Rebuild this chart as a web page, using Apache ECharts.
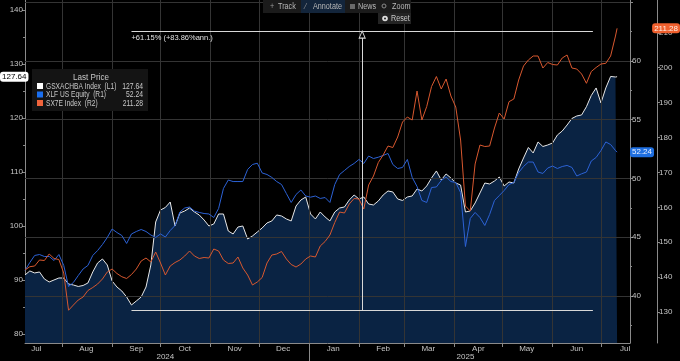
<!DOCTYPE html>
<html><head><meta charset="utf-8">
<script src="https://cdn.jsdelivr.net/npm/echarts@6/dist/echarts.min.js"></script>
<style>html,body{margin:0;padding:0;background:#000;}#c{width:680px;height:361px;}</style>
</head><body><div id="c"></div>
<script>
const dates = ['2024-07-09','2024-07-12','2024-07-15','2024-07-18','2024-07-21','2024-07-24','2024-07-27','2024-07-30','2024-08-02','2024-08-05',
'2024-08-08','2024-08-11','2024-08-14','2024-08-17','2024-08-20','2024-08-23','2024-08-26','2024-08-29','2024-09-01','2024-09-04',
'2024-09-07','2024-09-10','2024-09-13','2024-09-16','2024-09-19','2024-09-22','2024-09-25','2024-09-28','2024-10-01','2024-10-04',
'2024-10-07','2024-10-10','2024-10-13','2024-10-16','2024-10-19','2024-10-22','2024-10-25','2024-10-28','2024-10-31','2024-11-03',
'2024-11-06','2024-11-09','2024-11-12','2024-11-15','2024-11-18','2024-11-21','2024-11-24','2024-11-27','2024-11-30','2024-12-03',
'2024-12-06','2024-12-09','2024-12-12','2024-12-15','2024-12-18','2024-12-21','2024-12-24','2024-12-27','2024-12-30','2025-01-02',
'2025-01-05','2025-01-08','2025-01-11','2025-01-14','2025-01-17','2025-01-20','2025-01-23','2025-01-26','2025-01-29','2025-02-01',
'2025-02-04','2025-02-07','2025-02-10','2025-02-13','2025-02-16','2025-02-19','2025-02-22','2025-02-25','2025-02-28','2025-03-03',
'2025-03-06','2025-03-09','2025-03-12','2025-03-15','2025-03-18','2025-03-21','2025-03-24','2025-03-27','2025-03-30','2025-04-02',
'2025-04-05','2025-04-08','2025-04-11','2025-04-14','2025-04-17','2025-04-20','2025-04-23','2025-04-26','2025-04-29','2025-05-02',
'2025-05-05','2025-05-08','2025-05-11','2025-05-14','2025-05-17','2025-05-20','2025-05-23','2025-05-26','2025-05-29','2025-06-01',
'2025-06-04','2025-06-07','2025-06-10','2025-06-13','2025-06-16','2025-06-19','2025-06-22','2025-06-25','2025-06-28','2025-07-01',
'2025-07-04','2025-07-07','2025-07-10','2025-07-11'];

const gsxachba = [90.93,91.67,91.3,91.48,90.19,89.63,90.0,90.37,90.37,89.26,
89.07,88.8,88.98,89.44,91.48,93.15,93.89,92.78,89.81,88.7,
87.96,86.85,85.37,86.11,86.85,88.7,92.78,100.74,102.96,103.43,
104.44,100.0,102.4,102.78,103.33,102.6,102.04,101.11,100.0,100.37,
102.22,102.22,99.07,98.52,99.81,100.0,97.59,98.15,98.89,99.63,
100.56,100.93,102.04,101.85,101.3,100.93,103.7,104.81,105.37,102.22,
101.3,102.59,101.67,100.93,102.59,103.33,103.52,104.81,105.74,105.0,
105.37,104.07,103.89,104.63,105.74,106.48,106.3,105.0,104.72,105.37,
105.56,106.85,106.48,107.41,108.89,110.19,108.52,109.63,108.89,107.96,
107.59,102.59,102.78,104.26,106.11,107.96,107.78,108.33,109.07,107.41,
108.15,107.96,110.56,112.59,114.54,113.52,115.56,114.72,115.0,115.37,
116.85,117.59,118.7,119.91,120.37,120.56,122.09,124.17,125.56,122.78,
125.56,127.69,127.59,127.64];

const xlf = [42.17,42.85,43.45,43.53,43.36,43.36,43.02,43.53,42.6,40.81,
41.15,41.74,42.3,42.6,43.45,43.87,44.38,44.98,45.7,45.4,
45.15,44.47,45.28,45.49,45.66,45.49,45.19,44.98,45.28,45.02,
45.57,46.0,47.15,47.49,47.57,47.23,47.11,47.02,46.98,46.68,
47.45,49.15,49.87,49.74,49.74,49.74,50.77,51.19,51.3,50.47,
50.34,50.09,49.74,49.49,48.72,47.96,48.64,49.02,48.51,48.41,
48.51,48.3,48.38,47.96,49.49,50.34,50.68,51.02,51.28,51.62,
51.28,51.91,51.7,51.81,51.96,52.13,51.19,50.85,50.94,51.62,
50.09,49.32,48.13,47.96,49.23,49.28,49.83,50.13,49.74,49.66,
48.81,44.21,46.6,47.11,46.68,46.0,46.94,48.13,48.55,48.98,
49.49,49.66,50.51,51.02,51.4,51.4,50.55,50.43,50.89,51.06,
50.85,51.02,51.11,50.94,50.21,50.4,50.55,51.49,51.79,52.38,
53.11,52.89,52.38,52.24];

const sx7e = [142.03,142.98,143.18,144.9,144.76,146.62,145.33,145.04,141.17,130.5,
132.0,133.44,134.3,136.16,137.02,138.02,139.46,141.46,142.32,141.03,
140.11,139.6,140.74,142.32,144.61,145.47,144.33,147.19,144.04,140.6,
143.18,144.18,144.9,146.05,147.48,146.05,145.33,145.62,145.47,148.05,
147.48,144.9,143.9,144.04,145.76,142.61,140.6,137.74,138.6,139.89,
144.04,146.33,146.62,147.34,145.19,143.61,142.89,143.75,145.19,146.05,
145.76,148.91,150.2,152.06,155.64,158.65,158.37,160.95,162.52,162.38,
159.51,166.39,168.97,172.84,174.99,177.56,177.13,180.14,184.44,185.87,
185.01,193.32,185.01,188.88,194.61,197.48,193.9,196.76,191.89,188.74,
179.28,160.37,158.94,172.41,177.85,177.42,177.56,182.72,187.02,185.3,
190.26,191.03,196.48,200.49,202.21,203.35,203.35,199.91,201.49,200.92,
200.77,202.78,203.64,199.91,199.63,198.19,195.53,198.91,200.06,201.06,
201.26,203.35,209.08,211.28];

const seriesNames = ['GSXACHBA Index  (L1)', 'XLF US Equity  (R1)', 'SX7E Index  (R2)'];
const xRange = ['2024-07-09', '2025-07-19'];
const monthTicks = ['2024-08-01','2024-09-01','2024-10-01','2024-11-01','2024-12-01','2025-01-01','2025-02-01','2025-03-01','2025-04-01','2025-05-01','2025-06-01','2025-07-01'];
const monthLabelDates = ['2024-07-16','2024-08-16','2024-09-16','2024-10-16','2024-11-16','2024-12-16','2025-01-16','2025-02-16','2025-03-16','2025-04-16','2025-05-16','2025-06-16','2025-07-16'];
const monthNames = ['Jan','Feb','Mar','Apr','May','Jun','Jul','Aug','Sep','Oct','Nov','Dec'];
const yearLabelDates = ['2024-10-04','2025-04-08'];
const yearBreak = ['2025-01-01'];
const l1Ticks = [80,90,100,110,120,130,140];
const r1Ticks = [40,45,50,55,60];
const r1Grid = [40,45,50,55,60,65];
const r2Ticks = [130,140,150,160,170,180,190,200,210];
const annotText = '+61.15% (+83.86%ann.)';
const annotStart = '2024-09-13', annotEnd = '2025-06-26', annotMid = '2025-02-03';
const annotLow = 84.4, annotHigh = 136.0;
const toolbarItems = ['Track', 'Annotate', 'News', 'Zoom', 'Reset'];

const FONT = "'Liberation Sans',sans-serif";
const AX = '#8a8a8a', LBL = '#c4c4c4', GRID = '#343434';
const WHITE = '#e8e8e8', BLUE = '#2c62d6', ORANGE = '#d8582f', FILL = '#0a2343';

const ts = d => Date.parse(d + 'T00:00:00Z');
function toPairs(v){ return dates.map((d,i)=>[ts(d), v[i]]); }
const last = a => a[a.length-1];

const chart = echarts.init(document.getElementById('c'), null, {renderer:'canvas'});
const yBase = {
  type:'value',
  axisLine:{show:true, lineStyle:{color:AX}},
  axisTick:{show:true, length:3, lineStyle:{color:AX}},
  minorTick:{show:true, splitNumber:2, length:2, lineStyle:{color:AX}},
  axisLabel:{color:LBL, fontSize:8, fontFamily:FONT, margin:2},
  splitLine:{show:false}
};
function ptr(val, bg, fg, margin){
  return {show:true, type:'none', status:'show', value: val, triggerTooltip:false,
    label:{show:true, backgroundColor:bg, color:fg, fontSize:8, fontFamily:FONT, padding:[1,2,1,2], margin:margin||0,
      formatter: p => Number(p.value).toFixed(2)}};
}
const gridLineStyle = {color:GRID, type:'solid', width:1};
function txt(x, y, s, opt){
  opt = opt || {};
  return {type:'text', x:x, y:y, scaleX: opt.sx || 0.85, z: opt.z || 102,
    style:{text:s, fill: opt.fill || '#b8b8b8', font:(opt.size||8.5)+'px '+FONT, align: opt.align || 'left', verticalAlign:'middle'}};
}
const option = {
  backgroundColor:'#000',
  animation:false,
  grid:{left:25, right:50, top:0, bottom:18, containLabel:false},
  xAxis:[{
    type:'value', min:ts(xRange[0]), max:ts(xRange[1]),
    axisLine:{show:true, lineStyle:{color:AX}},
    axisTick:{show:true, length:4, customValues: monthTicks.map(ts), lineStyle:{color:AX}},
    axisLabel:{color:LBL, fontSize:8, fontFamily:FONT, margin:2, customValues: monthLabelDates.map(ts),
      formatter: v => monthNames[new Date(v).getUTCMonth()]},
    splitLine:{show:false}
  },{
    type:'value', min:ts(xRange[0]), max:ts(xRange[1]), position:'bottom', offset:0,
    axisLine:{show:false},
    axisTick:{show:true, length:18, customValues: yearBreak.map(ts), lineStyle:{color:AX}},
    axisLabel:{color:LBL, fontSize:8, fontFamily:FONT, margin:10, customValues: yearLabelDates.map(ts),
      formatter: v => String(new Date(v).getUTCFullYear())},
    splitLine:{show:false}
  }],
  yAxis:[
    Object.assign({}, yBase, {position:'left', min:78.33, max:141.85,
      axisTick:Object.assign({}, yBase.axisTick, {customValues:l1Ticks}),
      axisLabel:Object.assign({}, yBase.axisLabel, {customValues:l1Ticks}),
      axisPointer: ptr(last(gsxachba), '#ffffff', '#000', 0)}),
    Object.assign({}, yBase, {position:'right', min:36.0, max:65.19,
      axisTick:Object.assign({}, yBase.axisTick, {customValues:r1Grid}),
      axisLabel:Object.assign({}, yBase.axisLabel, {customValues:r1Ticks}),
      axisPointer: ptr(last(xlf), '#1f6fe0', '#e8f0ff', 0)}),
    Object.assign({}, yBase, {position:'right', offset:27, min:121.12, max:219.4,
      axisTick:Object.assign({}, yBase.axisTick, {customValues:r2Ticks}),
      axisLabel:Object.assign({}, yBase.axisLabel, {customValues:r2Ticks}),
      axisPointer: ptr(last(sx7e), '#f0602e', '#fff0e8', 6)})
  ],
  series:[
    {name:seriesNames[0], type:'line', yAxisIndex:0, xAxisIndex:0, data:toPairs(gsxachba), showSymbol:false, symbol:'none',
     lineStyle:{color:WHITE, width:1}, areaStyle:{color:FILL, opacity:1}, z:1,
     markLine:{silent:true, symbol:['none','none'], lineStyle:{color:'#d8d8d8', type:'solid', width:1}, label:{show:false}, z:6,
       data:[
         [{coord:[ts(annotStart), annotHigh], label:{show:true, position:'insideStartBottom', formatter:annotText, color:'#e0e0e0', fontSize:7.5, fontFamily:FONT, distance:[0,2]}},{coord:[ts(annotEnd), annotHigh]}],
         [{coord:[ts(annotStart), annotLow]},{coord:[ts(annotEnd), annotLow]}],
         [{coord:[ts(annotMid), annotLow]},{coord:[ts(annotMid), annotHigh]}]
       ]},
     markPoint:{silent:true, symbol:'triangle', symbolSize:[6,7], symbolOffset:[0,3], label:{show:false}, z:7,
       itemStyle:{color:'#000', borderColor:'#d8d8d8', borderWidth:1},
       data:[{coord:[ts(annotMid), annotHigh]}]}
    },
    {name:seriesNames[1], type:'line', yAxisIndex:1, xAxisIndex:0, data:toPairs(xlf), showSymbol:false, symbol:'none',
     lineStyle:{color:BLUE, width:1}, z:3,
     markLine:{silent:true, symbol:['none','none'], lineStyle:gridLineStyle, label:{show:false}, z:2,
       data: monthTicks.map(d => [{coord:[ts(d), 36.0]}, {coord:[ts(d), 65.19]}])
         .concat(r1Grid.map(v => [{coord:[ts(xRange[0]), v]}, {coord:[ts(xRange[1]), v]}]))}},
    {name:seriesNames[2], type:'line', yAxisIndex:2, xAxisIndex:0, data:toPairs(sx7e), showSymbol:false, symbol:'none',
     lineStyle:{color:ORANGE, width:1}, z:3}
  ],
  graphic:[
    {type:'rect', shape:{x:263,y:0,width:148,height:13}, style:{fill:'#1b1b1b'}, z:100},
    {type:'rect', shape:{x:301,y:0,width:44,height:13}, style:{fill:'#13253b'}, z:101},
    txt(270, 6.5, '+', {fill:'#9a9a9a'}),
    txt(278, 6.5, toolbarItems[0]),
    txt(305, 6.5, '\u2044', {fill:'#9a9a9a'}),
    txt(313, 6.5, toolbarItems[1]),
    {type:'rect', shape:{x:350,y:4,width:5,height:5}, style:{fill:'#6a6a6a'}, z:102},
    txt(358, 6.5, toolbarItems[2]),
    {type:'circle', shape:{cx:384,cy:6,r:2}, style:{fill:'none', stroke:'#8a8a8a', lineWidth:1}, z:102},
    txt(392, 6.5, toolbarItems[3]),
    {type:'rect', shape:{x:378,y:13,width:33,height:11}, style:{fill:'#232323'}, z:100},
    {type:'circle', shape:{cx:385,cy:18.5,r:2.8}, style:{fill:'#ddd'}, z:102},
    {type:'circle', shape:{cx:385,cy:18.5,r:1}, style:{fill:'#232323'}, z:103},
    txt(391, 18.5, toolbarItems[4], {fill:'#c8c8c8'}),
    {type:'rect', shape:{x:32,y:69,width:116,height:42}, style:{fill:'#141414'}, z:100},
    txt(91, 77.5, 'Last Price', {fill:'#c8c8c8', align:'center', size:8.5, sx:0.95}),
    {type:'rect', shape:{x:37,y:83,width:6,height:6}, style:{fill:'#ffffff'}, z:101},
    {type:'rect', shape:{x:37,y:91.5,width:6,height:6}, style:{fill:'#1a6ff0'}, z:101},
    {type:'rect', shape:{x:37,y:100,width:6,height:6}, style:{fill:'#f0643c'}, z:101},
    txt(46, 86.5, seriesNames[0], {fill:'#c8c8c8', size:8.5, sx:0.78}),
    txt(46, 95, seriesNames[1], {fill:'#c8c8c8', size:8.5, sx:0.78}),
    txt(46, 103.5, seriesNames[2], {fill:'#c8c8c8', size:8.5, sx:0.78}),
    txt(143, 86.5, last(gsxachba).toFixed(2), {fill:'#c8c8c8', size:8.5, sx:0.8, align:'right'}),
    txt(143, 95, last(xlf).toFixed(2), {fill:'#c8c8c8', size:8.5, sx:0.8, align:'right'}),
    txt(143, 103.5, last(sx7e).toFixed(2), {fill:'#c8c8c8', size:8.5, sx:0.8, align:'right'})
  ]
};
chart.setOption(option);
</script></body></html>
